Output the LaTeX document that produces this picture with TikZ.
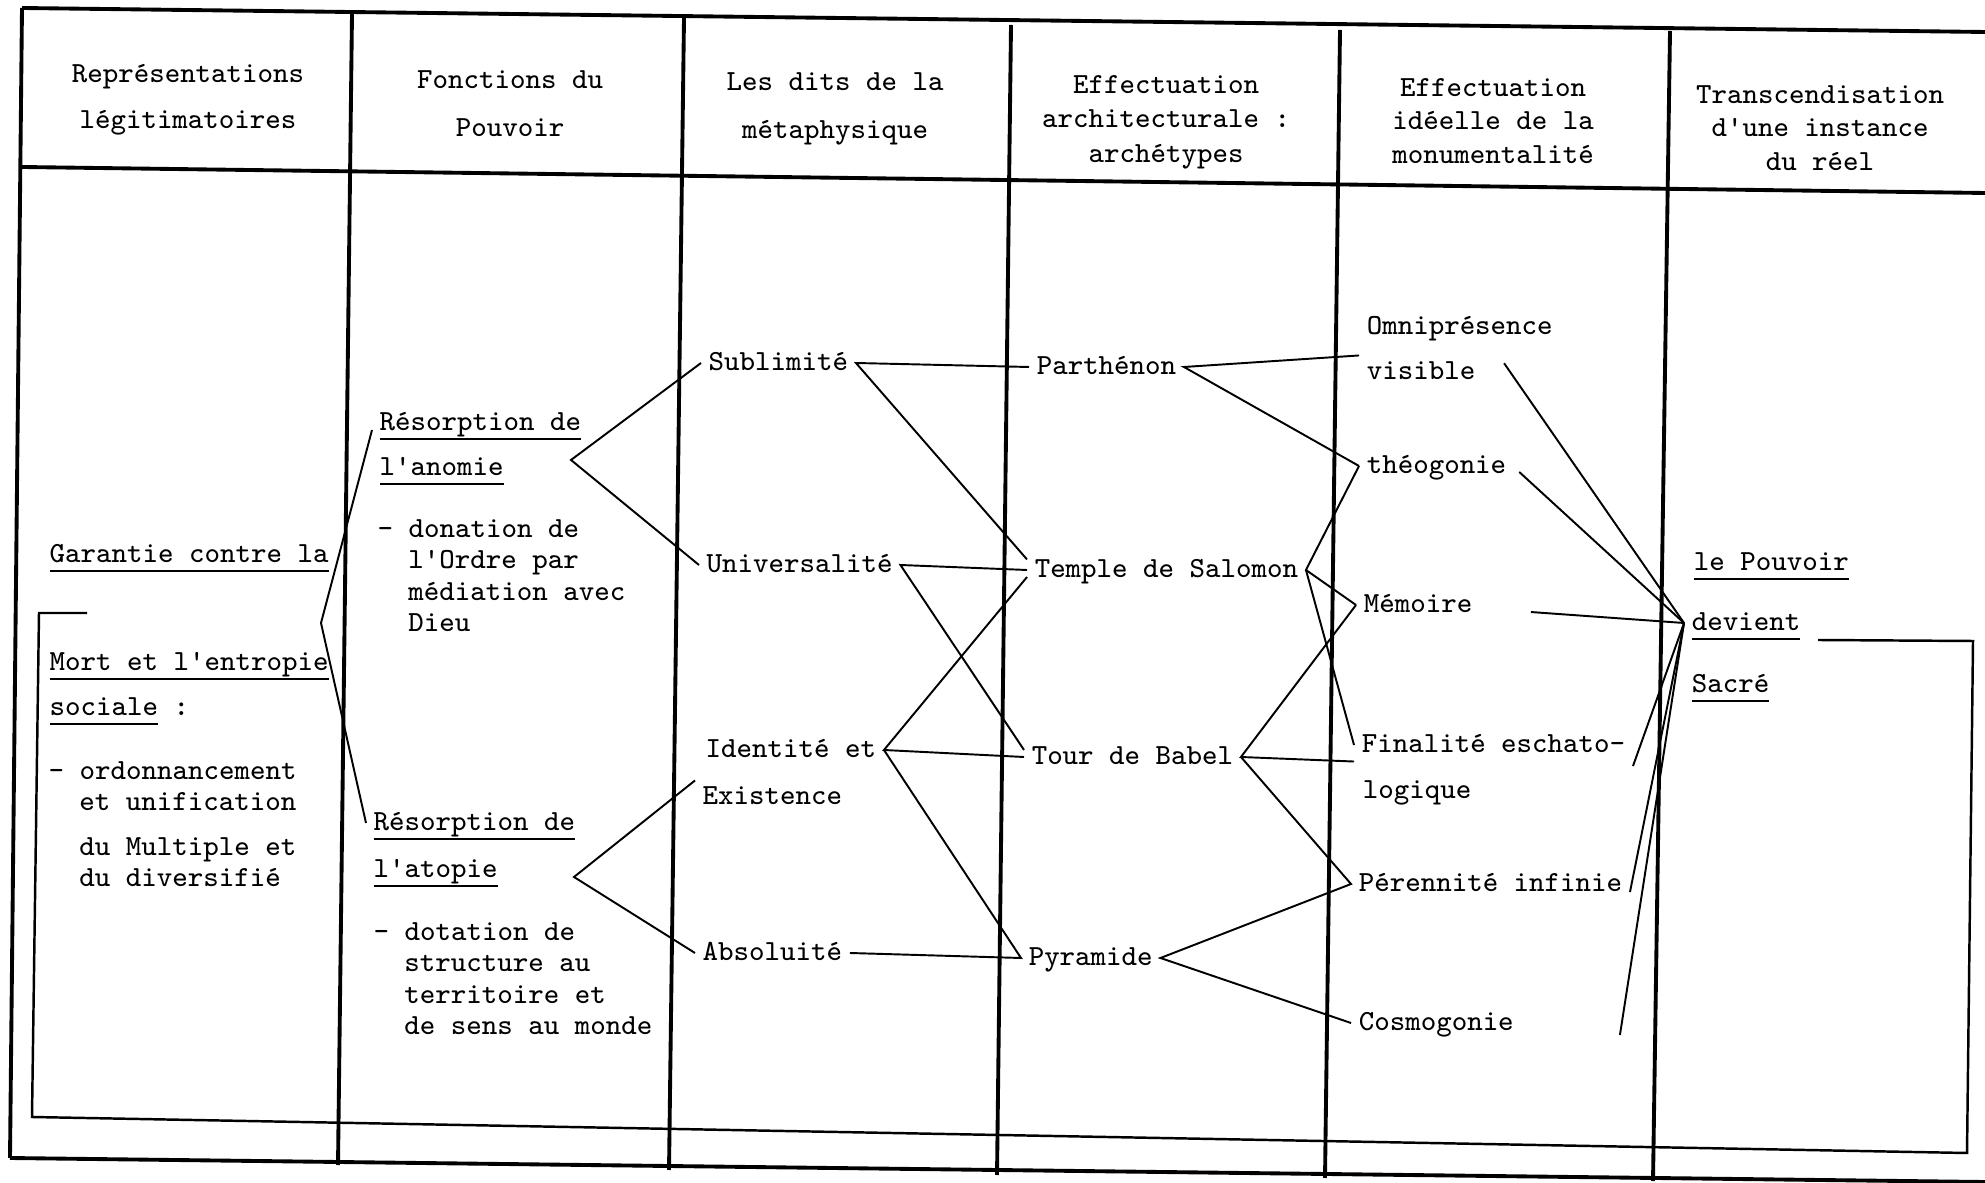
\documentclass[tikz,border=0pt]{standalone}
\usepackage{tikz}

% soulignement a la machine a ecrire
\newcommand{\souligne}[1]{\setbox0\hbox{#1}\rlap{\rule[-2.9pt]{\wd0}{0.6pt}}\box0\relax}

\begin{document}
\begin{tikzpicture}[x=0.01cm, y=-0.01cm,
    texte/.style={font=\fontsize{8.3}{8.9}\selectfont\ttfamily, inner xsep=2pt, inner ysep=1pt, anchor=west, text height=5.5pt, text depth=1.5pt},
    bloc/.style={font=\fontsize{8.3}{8.9}\selectfont\ttfamily, inner sep=0pt, anchor=north west, align=left},
    entete/.style={font=\fontsize{8.3}{#1}\selectfont\ttfamily, inner sep=0pt, align=center},
    trait/.style={line width=0.55pt},
    bord/.style={line width=1.1pt},
    cadre/.style={line width=0.7pt}]
    \useasboundingbox (0,0) rectangle (1985,1183);

    % Cadre du tableau
    \draw[bord] (22,8) -- (1985,32);
    \draw[bord] (22,167) -- (1985,193);
    \draw[bord] (10,1158) -- (1985,1182);
    \draw[bord] (22,8) -- (10,1158);
    \foreach \xh/\yh/\xb/\yb in {352/14/338/1165, 684/18/669/1170, 1011/25/997/1175, 1340/30/1325/1178, 1670/31/1653/1181}
        \draw[bord] (\xh,\yh) -- (\xb,\yb);

    % En-tetes des colonnes
    \node[entete=13.1] (h1) at (188,100) {Représentations\\légitimatoires};
    \node[entete=13.7] (h2) at (510,104) {Fonctions du\\Pouvoir};
    \node[entete=13.7] (h3) at (835,109) {Les dits de la\\métaphysique};
    \node[entete=9.8] (h4) at (1166,122) {Effectuation\\architecturale :\\archétypes};
    \node[entete=9.5] (h5) at (1493,121) {Effectuation\\idéelle de la\\monumentalité};
    \node[entete=9.5] (h6) at (1820,128) {Transcendisation\\d'une instance\\du réel};

    % Representations legitimatoires
    \node[texte] (gar) at (42,555) {\souligne{Garantie contre la}};
    \node[texte] (mort) at (42,663) {\souligne{Mort et l'entropie}};
    \node[texte] (soc) at (42,708) {\souligne{sociale} :};
    \node[bloc] (ord) at (48,761) {- ordonnancement\\\hspace*{1.05em}et unification\\[3.85pt]\hspace*{1.05em}du Multiple et\\\hspace*{1.05em}du diversifié};

    % Fonctions du Pouvoir
    \node[texte] (res1) at (372,423) {\souligne{Résorption de}};
    \node[texte] (ano) at (372,468) {\souligne{l'anomie}};
    \node[bloc] (don) at (377,519) {- donation de\\\hspace*{1.05em}l'Ordre par\\\hspace*{1.05em}médiation avec\\\hspace*{1.05em}Dieu};
    \node[texte] (res2) at (366,823) {\souligne{Résorption de}};
    \node[texte] (ato) at (366,870) {\souligne{l'atopie}};
    \node[bloc] (dot) at (373,922) {- dotation de\\\hspace*{1.05em}structure au\\\hspace*{1.05em}territoire et\\\hspace*{1.05em}de sens au monde};

    % Les dits de la metaphysique
    \node[texte] (subl) at (701,363) {Sublimité};
    \node[texte] (univ) at (699,565) {Universalité};
    \node[texte] (ident) at (698,750) {Identité et};
    \node[texte] (exist) at (695,797) {Existence};
    \node[texte] (abso) at (695,953) {Absoluité};

    % Archetypes
    \node[texte] (parth) at (1029,367) {Parthénon};
    \node[texte] (temple) at (1027,570) {Temple de Salomon};
    \node[texte] (babel) at (1024,757) {Tour de Babel};
    \node[texte] (pyr) at (1021,958) {Pyramide};

    % Monumentalite
    \node[texte] (omni) at (1359,327) {Omniprésence};
    \node[texte] (vis) at (1359,372) {visible};
    \node[texte] (theo) at (1359,466) {théogonie};
    \node[texte] (mem) at (1356,605) {Mémoire};
    \node[texte] (fin) at (1354,745) {Finalité eschato-};
    \node[texte] (logi) at (1355,791) {logique};
    \node[texte] (per) at (1351,884) {Pérennité infinie};
    \node[texte] (cosmo) at (1351,1023) {Cosmogonie};

    % Transcendisation
    \node[texte] (pouv) at (1686,563) {\souligne{le Pouvoir}};
    \node[texte] (dev) at (1684,623) {\souligne{devient}};
    \node[texte] (sacre) at (1684,685) {\souligne{Sacré}};

    % Accolades
    \coordinate (gpt) at (321,623);
    \coordinate (apt) at (571,460);
    \coordinate (tpt) at (574,877);
    \draw[trait] ([yshift=-2pt]res1.west) -- (gpt) -- (res2.west);
    \draw[trait] (subl.west) -- (apt) -- (univ.west);
    \draw[trait] (exist.north west) -- (tpt) -- (abso.west);

    % Liens metaphysique - archetypes
    \draw[trait] (parth.west) -- (subl.east) -- ([yshift=3pt]temple.west);
    \draw[trait] (temple.west) -- (univ.east) -- ([yshift=2pt]babel.west);
    \draw[trait] ([yshift=-2pt]temple.west) -- (ident.east) -- (babel.west);
    \draw[trait] (ident.east) -- (pyr.west) -- (abso.east);

    % Liens archetypes - monumentalite
    \draw[trait] (vis.north west) -- (parth.east) -- (theo.west);
    \draw[trait] (theo.west) -- (temple.east) -- (mem.west);
    \draw[trait] (temple.east) -- (fin.west);
    \draw[trait] (mem.west) -- (babel.east) -- (fin.south west);
    \draw[trait] (babel.east) -- (per.west) -- (pyr.east) -- (cosmo.west);

    % Convergence vers le Pouvoir
    \draw[trait] ([shift={(6pt,2.5pt)}]vis.east) -- (dev.west);
    \draw[trait] ([shift={(1.5pt,-1.7pt)}]theo.east) -- (dev.west);
    \draw[trait] ([shift={(14.5pt,-2pt)}]mem.east) -- (dev.west);
    \draw[trait] ([yshift=-6pt]fin.east) -- (dev.west);
    \draw[trait] ([yshift=-2.3pt]per.east) -- (dev.west);
    \draw[trait] ([shift={(28pt,-3.4pt)}]cosmo.east) -- (dev.west);

    % Cadre interieur
    \coordinate (fa) at (1818,640);
    \coordinate (fb) at (1973,641);
    \coordinate (fc) at (1967,1153);
    \coordinate (fd) at (32,1117);
    \coordinate (fe) at (39,613);
    \coordinate (ff) at (87,613);
    \draw[cadre] (fa) -- (fb) -- (fc) -- (fd) -- (fe) -- (ff);
\end{tikzpicture}
\end{document}
